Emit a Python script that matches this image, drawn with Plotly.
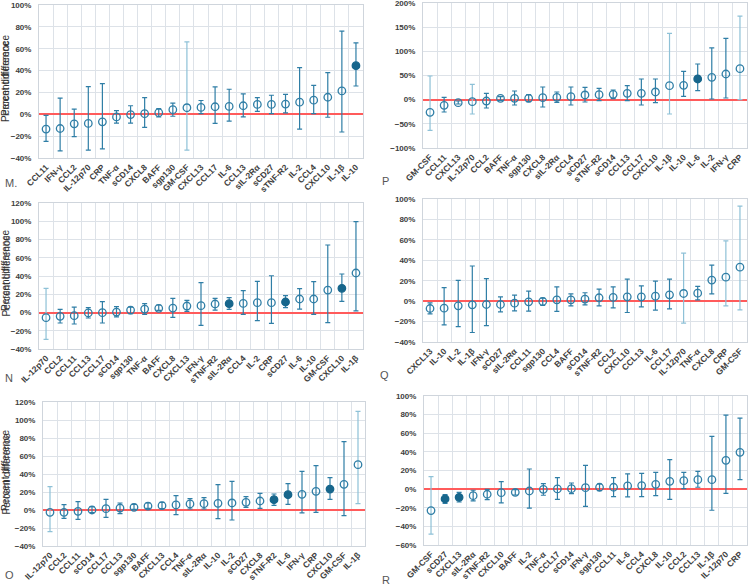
import plotly.graph_objects as go

# ---------------- data ----------------
cats_M = ["CCL11", "IFN-γ", "CCL2", "IL-12p70", "CRP", "TNF-α", "sCD14", "CXCL8", "BAFF", "sgp130",
          "GM-CSF", "CXCL13", "CCL17", "IL-6", "CCL13", "sIL-2Rα", "sCD27", "sTNF-R2", "IL-2", "CCL4",
          "CXCL10", "IL-1β", "IL-10"]
val_M = [-13.5, -13, -8.7, -8.4, -6.9, -2.4, -0.3, 0.6, 1.5, 4.2, 6, 6.3, 6.9, 7.2, 7.8, 9, 9, 9.3, 11.1, 12.9, 15.6, 21.4, 44.5]
lo_M = [-24.7, -33.4, -20.5, -32.8, -31.6, -8.1, -8.1, -12, -2.4, -1.8, -32.8, 0.6, -8.4, -6.3, -2.4, 2.7, 0.6, 1.2, -13.5, 0.6, -2.7, -16.2, 25.9]
hi_M = [-1, 14.7, 4.8, 25.3, 28, 3.3, 7.8, 15.3, 5.1, 10.2, 66.2, 12.6, 25, 22.9, 18.6, 15.3, 17.4, 18.3, 42.7, 26.5, 38.2, 76.1, 65.3]
sig_M = ["IL-10"]

cats_P = ["GM-CSF", "CCL11", "CXCL13", "IL-12p70", "CCL2", "BAFF", "TNF-α", "sgp130", "CXCL8", "sIL-2Rα",
          "CCL4", "sCD27", "sTNF-R2", "sCD14", "CCL13", "CCL17", "CXCL10", "IL-1β", "IL-10", "IL-6",
          "IL-2", "IFN-γ", "CRP"]
val_P = [-26.2, -11.7, -6.2, -4.1, -2.8, 2.8, 2.8, 2.8, 4.1, 4.8, 6.2, 9.7, 10.3, 11, 13.1, 13.1, 15.9, 29, 29.7, 42.8, 46.2, 53.1, 64.1]
lo_P = [-63.4, -25.5, -9, -29.7, -17.2, -1.4, -11, -4.1, -15.2, -5.5, -11, -4.8, -2.1, 2.1, -2.1, -11, -6.2, -29.7, 6.9, 18.6, 1.4, 3.4, 0]
hi_P = [49, 4.8, -2.8, 31.7, 13.1, 6.2, 17.9, 10.3, 26.2, 15.9, 26.2, 25.5, 23.4, 20, 29, 42.8, 42.8, 137, 58.6, 73.8, 107, 127, 173]
sig_P = ["IL-6"]

cats_N = ["IL-12p70", "CCL2", "CCL11", "CCL13", "CCL17", "sCD14", "sgp130", "TNF-α", "BAFF", "CXCL8",
          "CXCL13", "IFN-γ", "sTNF-R2", "sIL-2Rα", "CCL4", "IL-2", "CRP", "sCD27", "IL-6", "IL-10",
          "GM-CSF", "CXCL10", "IL-1β"]
val_N = [-5.7, -4.2, -3.5, -0.5, -0.2, 0.5, 2.7, 3.8, 4.6, 4.9, 7.1, 7.5, 9.3, 9.7, 10, 10.8, 10.8, 11.5, 14.8, 14.8, 24.6, 26.5, 43.3]
lo_N = [-29.4, -11.5, -12.6, -6, -11.5, -4.9, -1.3, -2, 2.4, -5.3, 1.3, -14, 2.7, 3.5, -2, -9, -12, 5.3, 3.8, -2, -11, 12.2, 1.8]
hi_N = [26.5, 3.5, 6, 5.3, 11.9, 6.4, 6, 9.7, 8.2, 15.5, 13.3, 32.7, 15.5, 16.3, 23.9, 34.2, 40.3, 18.4, 26.1, 33.8, 74, 42.2, 99.6]
sig_N = ["sIL-2Rα", "sCD27", "CXCL10"]

cats_Q = ["CXCL13", "IL-10", "IL-2", "IL-1β", "IFN-γ", "sCD27", "sIL-2Rα", "CCL11", "sgp130", "CCL4",
          "BAFF", "sCD14", "sTNF-R2", "CCL2", "CXCL10", "CCL13", "IL-6", "CCL17", "IL-12p70", "TNF-α",
          "CXCL8", "CRP", "GM-CSF"]
val_Q = [-7.2, -6.9, -4.6, -3.6, -3.3, -3.3, -2, -0.7, -0.3, 1.3, 1.3, 2, 3.3, 3.6, 4.2, 4.2, 4.9, 6.2, 7.5, 7.8, 20.6, 23.5, 33.3]
lo_Q = [-12.4, -23.2, -24.9, -30.7, -23.9, -10.5, -9.5, -9.8, -4.2, -10.1, -4.6, -3.6, -4.6, -6.5, -11.1, -5.6, -8.8, -7.5, -21.5, 1.3, 7.2, -4.6, -8.5]
hi_Q = [-1.6, 13.3, 20.4, 34.4, 22, 4.2, 5.9, 9.8, 2.9, 14, 7.2, 8.2, 11.7, 14, 21.5, 15, 19.6, 21.5, 47, 14.4, 35.3, 59, 93]
sig_Q = []

cats_O = ["IL-12p70", "CCL2", "CCL11", "sCD14", "CCL17", "CCL13", "sgp130", "BAFF", "CXCL13", "CCL4",
          "TNF-α", "sIL-2Rα", "IL-10", "IL-2", "sCD27", "CXCL8", "sTNF-R2", "IL-6", "IFN-γ", "CRP",
          "CXCL10", "GM-CSF", "IL-1β"]
val_O = [-2.6, -2.6, -1.5, 0, 1.5, 2.2, 3, 4.4, 4.8, 5.6, 6.7, 7, 7.4, 7.8, 8.5, 10, 11.5, 17, 17.4, 20.7, 23.3, 28.5, 50.4]
lo_O = [-24, -9.3, -10.4, -3, -8.1, -4.1, 0.7, 1.9, 1.5, -5.2, 1.1, 1.1, -9.6, -11.1, 3, 1.9, 5.2, 6.3, -3.3, -2.6, 11.9, -6.3, 7]
hi_O = [25.9, 5.9, 9.3, 3.7, 11.9, 7.8, 6.3, 7.8, 8.5, 15.9, 12.6, 13.7, 28.1, 31.9, 14.8, 18.5, 17.8, 29.3, 43, 49.3, 35.9, 75.9, 109.6]
sig_O = ["sTNF-R2", "IL-6", "CXCL10"]

cats_R = ["GM-CSF", "sCD27", "CXCL13", "sIL-2Rα", "sTNF-R2", "CXCL10", "BAFF", "IL-2", "TNF-α", "CCL17",
          "sCD14", "IFN-γ", "sgp130", "CCL11", "IL-6", "CCL4", "CXCL8", "IL-10", "CCL2", "CCL13",
          "IL-1β", "IL-12p70", "CRP"]
val_R = [-23, -10.5, -8.8, -7, -5.5, -3.8, -3.4, -2, -0.2, 0.2, 0.5, 1.6, 2, 2, 3.4, 3.8, 5.2, 8.4, 9.1, 10.2, 10.2, 30.9, 39.5]
lo_R = [-48.4, -15.2, -13.8, -12.7, -11.2, -14.8, -6.3, -20.5, -6.6, -10.9, -4.8, -18.6, -1.6, -8, -8.4, -8, -7, -10.9, 0.5, 2, -22.7, -4.5, 10.2]
hi_R = [13.4, -5.9, -3.4, -1.2, -0.2, 8, -0.5, 21.6, 5.9, 12.3, 6.6, 25.5, 5.5, 12.3, 16.3, 17, 18, 31.6, 18, 19.1, 56.6, 79.5, 76.3]
sig_R = ["sCD27", "CXCL13"]

# ---------------- style ----------------
DARK = "#2f7ea6"
FILL = "#17668c"
LIGHT_ERR = "#8ec1d7"
GRID = "#dde2e8"
TXT = "#404040"
FONT = "Liberation Sans"
W, H = 749, 585

# light-coloured error bars (style only)
light_err = {
    "M": ["GM-CSF"],
    "P": ["GM-CSF", "IL-12p70", "IL-1β", "CRP"],
    "N": ["IL-12p70"],
    "Q": ["IL-12p70", "CRP", "GM-CSF"],
    "O": ["IL-12p70", "IL-1β"],
    "R": ["GM-CSF"],
}

# panel: key, label, cats, vals, lo, hi, sig, yrange, dtick, px box (x0, x1, ytop, ybottom), label pos
panels = [
    ("M", "M.", cats_M, val_M, lo_M, hi_M, sig_M, [-40, 100], 20, (39, 363, 5, 158), (3, 183)),
    ("P", "P", cats_P, val_P, lo_P, hi_P, sig_P, [-100, 200], 50, (423, 747, 3, 148), (380, 181)),
    ("N", "N", cats_N, val_N, lo_N, hi_N, sig_N, [-40, 120], 20, (39, 363, 203, 349), (3, 378)),
    ("Q", "Q", cats_Q, val_Q, lo_Q, hi_Q, sig_Q, [-40, 100], 20, (423, 747, 199, 342), (378, 375)),
    ("O", "O", cats_O, val_O, lo_O, hi_O, sig_O, [-40, 120], 20, (43, 365, 402, 546), (3, 575)),
    ("R", "R", cats_R, val_R, lo_R, hi_R, sig_R, [-60, 100], 20, (424, 747, 396, 545), (380, 580)),
]

fig = go.Figure()
annotations = []

for i, (key, label, cats, vals, lo, hi, sig, yr, dt, box, lpos) in enumerate(panels):
    n = i + 1
    xa = "x" if n == 1 else f"x{n}"
    ya = "y" if n == 1 else f"y{n}"
    x0, x1, yt, yb = box

    for light in (False, True):
        idx = [j for j, c in enumerate(cats) if (c in light_err[key]) == light]
        if not idx:
            continue
        fig.add_trace(go.Scatter(
            x=[cats[j] for j in idx], y=[vals[j] for j in idx],
            mode="markers", marker=dict(size=1, opacity=0),
            error_y=dict(type="data", symmetric=False,
                         array=[hi[j] - vals[j] for j in idx],
                         arrayminus=[vals[j] - lo[j] for j in idx],
                         color=LIGHT_ERR if light else DARK, thickness=1.2, width=2.5),
            xaxis=xa, yaxis=ya, showlegend=False, hoverinfo="skip"))

    fig.add_trace(go.Scatter(
        x=cats, y=vals, mode="markers",
        marker=dict(size=7.5,
                    symbol=["circle" if c in sig else "circle-open" for c in cats],
                    color=[FILL if c in sig else DARK for c in cats],
                    line=dict(width=1.3, color=[FILL if c in sig else DARK for c in cats])),
        xaxis=xa, yaxis=ya, showlegend=False))

    xkey = "xaxis" if n == 1 else f"xaxis{n}"
    ykey = "yaxis" if n == 1 else f"yaxis{n}"
    fig.layout[xkey] = dict(
        domain=[x0 / W, x1 / W], anchor=ya, type="category",
        categoryorder="array", categoryarray=cats,
        range=[-0.5, len(cats) - 0.5], automargin=False,
        tickson="boundaries", showgrid=True, gridcolor=GRID, gridwidth=1,
        showline=True, linecolor="#cfd5dc", mirror=True, ticks="",
        tickangle=-45, tickfont=dict(family=FONT, size=8.5, color=TXT, weight="bold"),
        ticklabeloverflow="allow",
        zeroline=False, fixedrange=True)
    fig.layout[ykey] = dict(
        domain=[1 - yb / H, 1 - yt / H], anchor=xa, automargin=False,
        range=yr, dtick=dt, ticksuffix="%",
        showgrid=True, gridcolor=GRID, gridwidth=1,
        showline=True, linecolor="#cfd5dc", mirror=True, ticks="",
        zeroline=True, zerolinecolor="#ff5b5b", zerolinewidth=1.5,
        tickfont=dict(family=FONT, size=8, color=TXT, weight="bold"),
        ticklabeloverflow="allow",
        ticklabelstandoff=5, fixedrange=True)

    annotations.append(dict(
        text="Percent difference", xref="paper", yref="paper",
        x=5.5 / W, y=1 - ((yt + yb) / 2) / H, textangle=-90, showarrow=False,
        xanchor="center", yanchor="middle",
        font=dict(family=FONT, size=10, color="#333333")))
    annotations.append(dict(
        text=label, xref="paper", yref="paper",
        x=lpos[0] / W, y=1 - lpos[1] / H, showarrow=False,
        xanchor="left", yanchor="middle",
        font=dict(family=FONT, size=11, color="#555555")))

fig.update_layout(
    width=W, height=H, margin=dict(l=0, r=0, t=0, b=0, autoexpand=False),
    paper_bgcolor="white", plot_bgcolor="white",
    annotations=annotations, showlegend=False)

fig.write_html("out.html", config={"displayModeBar": False},
               post_script="document.body.style.margin='0';document.body.style.overflow='hidden';")
